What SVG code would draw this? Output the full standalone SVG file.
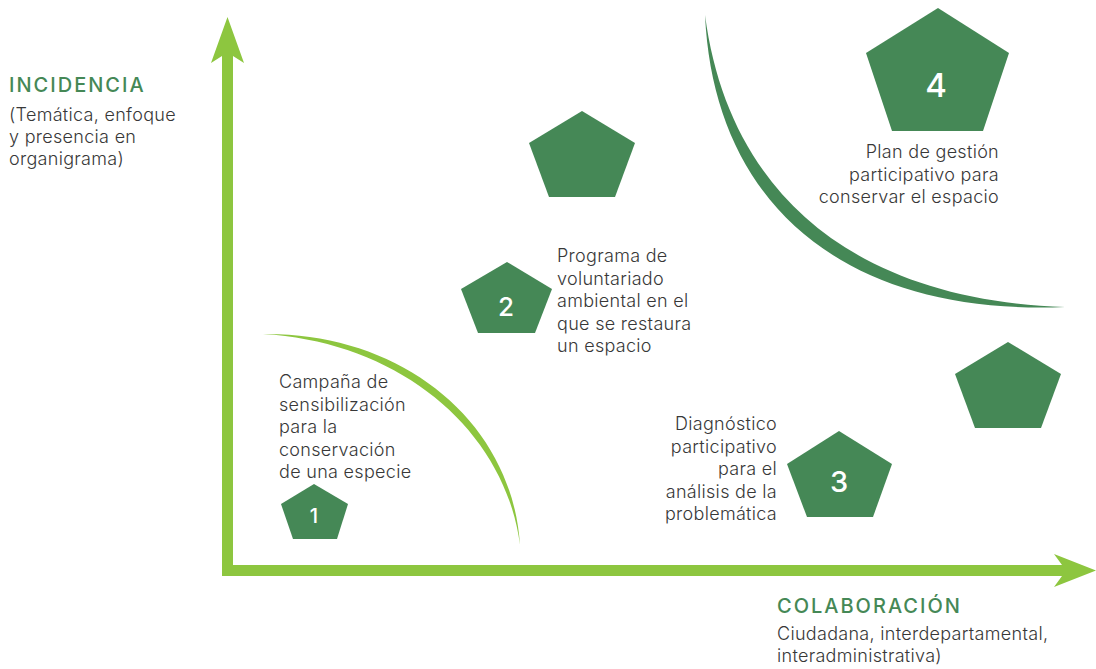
<svg xmlns="http://www.w3.org/2000/svg" width="1096" height="669" viewBox="0 0 1096 669">
<style>
.pent{fill:#458856}
.num{fill:#ffffff;font-family:Inter,"Liberation Sans",sans-serif;text-anchor:middle;font-weight:500}
.txt{fill:#383838;font-family:Inter,"Liberation Sans",sans-serif;font-size:18px;font-weight:300;letter-spacing:0.3px}
.ttl{fill:#458856;font-family:Inter,"Liberation Sans",sans-serif;font-size:20px;font-weight:500;letter-spacing:2px}
.r{text-anchor:end}
</style>
<rect width="1096" height="669" fill="#ffffff"/>
<g id="connectors">
<path id="axes" fill="#8dc63f" d="M222,576 L222,56 L211,63 L227.5,17 L244,63 L233,56 L233,565 L1062,565 L1054,554 L1096,570.5 L1054,587 L1062,576 Z"/>
<path id="arc-light" fill="#8dc63f" d="M263,334 C400,332 512,420 520,545 C505,430 400,342 263,334 Z"/>
<path id="arc-dark" fill="#458856" d="M705,15 C714,205 845,316 1065,307 C850,300 728,190 705,15 Z"/>
</g>
<g id="axis-y-label">
<text class="ttl" x="9" y="92">INCIDENCIA</text>
<text class="txt" x="9" y="121">(Temática, enfoque</text>
<text class="txt" x="9" y="143">y presencia en</text>
<text class="txt" x="9" y="165">organigrama)</text>
</g>
<g id="axis-x-label">
<text class="ttl" x="777" y="613">COLABORACIÓN</text>
<text class="txt" x="777" y="640">Ciudadana, interdepartamental,</text>
<text class="txt" x="777" y="662">interadministrativa)</text>
</g>
<g id="node1">
<polygon class="pent" points="314,484 348,504 337,539 293,539 281,504"/>
<text class="num" x="314" y="523" font-size="20">1</text>
<text class="txt" x="279" y="388">Campaña de</text>
<text class="txt" x="279" y="410.5">sensibilización</text>
<text class="txt" x="279" y="433">para la</text>
<text class="txt" x="279" y="455.5">conservación</text>
<text class="txt" x="279" y="478">de una especie</text>
</g>
<g id="node2">
<polygon class="pent" points="507,262 552,289 535,333 478,333 461,289"/>
<text class="num" x="506" y="316" font-size="26">2</text>
<text class="txt" x="557" y="262">Programa de</text>
<text class="txt" x="557" y="284.5">voluntariado</text>
<text class="txt" x="557" y="307">ambiental en el</text>
<text class="txt" x="557" y="329.5">que se restaura</text>
<text class="txt" x="557" y="352">un espacio</text>
</g>
<g id="node-top">
<polygon class="pent" points="582,111 635,143 615,197 549,197 529,143"/>
</g>
<g id="node3">
<polygon class="pent" points="839,431 892,464 873,517 807,517 787,464"/>
<text class="num" x="839" y="492" font-size="29">3</text>
<text class="txt r" x="777" y="430">Diagnóstico</text>
<text class="txt r" x="777" y="452.5">participativo</text>
<text class="txt r" x="777" y="475">para el</text>
<text class="txt r" x="777" y="497.5">análisis de la</text>
<text class="txt r" x="777" y="520">problemática</text>
</g>
<g id="node-right">
<polygon class="pent" points="1008,342 1061,374 1041,428 975,428 955,374"/>
</g>
<g id="node4">
<polygon class="pent" points="938,8 1009,53 983,131 892,131 866,53"/>
<text class="num" x="936" y="97" font-size="33">4</text>
<text class="txt r" x="999" y="158">Plan de gestión</text>
<text class="txt r" x="999" y="180.5">participativo para</text>
<text class="txt r" x="999" y="203">conservar el espacio</text>
</g>
</svg>
